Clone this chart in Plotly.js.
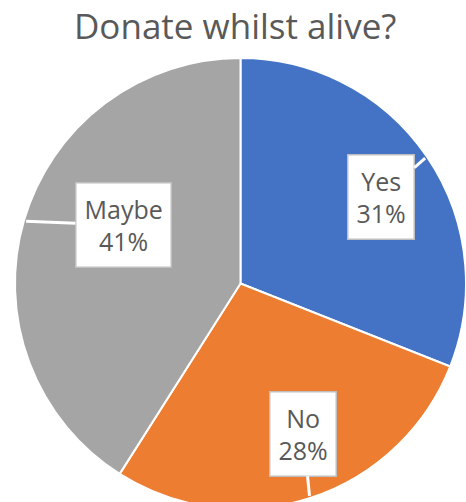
<!DOCTYPE html>
<html>
<head>
<meta charset="utf-8">
<script src="https://cdn.plot.ly/plotly-3.0.1.min.js"></script>
<style>
html,body{margin:0;padding:0;overflow:hidden;background:#fff;width:466px;height:502px;}
#chart{width:480px;height:520px;}
</style>
</head>
<body>
<div id="chart"></div>
<script>
const categories = ["Yes", "No", "Maybe"];
const values = [31, 28, 41];
const colors = ["#4472C4", "#ED7D31", "#A5A5A5"];
const chartTitle = "Donate whilst alive?";

// layout / styling
const W = 480, H = 520;
const M = {l: 15, r: 14, t: 58, b: 11};
const plotW = W - M.l - M.r, plotH = H - M.t - M.b;
const cx = M.l + plotW / 2, cy = M.t + plotH / 2, R = Math.min(plotW, plotH) / 2;
const calloutOffsets = [[-44, 39], [-6, -62], [97, 4]]; // box centre relative to pointer tip (px)

const total = values.reduce((a, b) => a + b, 0);
let cum = 0;
const annotations = categories.map((c, i) => {
  const frac = values[i] / total;
  const mid = (cum + frac / 2) * 2 * Math.PI;
  cum += frac;
  const tx = cx + Math.sin(mid) * R * 0.99;
  const ty = cy - Math.cos(mid) * R * 0.99;
  return {
    x: (tx - M.l) / plotW, y: 1 - (ty - M.t) / plotH,
    xref: "paper", yref: "paper",
    text: c + "<br>" + Math.round(frac * 100) + "%",
    showarrow: true, arrowhead: 0, arrowwidth: 3, arrowcolor: "#ffffff",
    ax: calloutOffsets[i][0], ay: calloutOffsets[i][1],
    bgcolor: "#ffffff", bordercolor: "#BFBFBF", borderwidth: 1.5, borderpad: 8,
    font: {family: "Open Sans, sans-serif", size: 25, color: "#595959"},
    align: "center"
  };
});

const trace = {
  type: "pie",
  labels: categories,
  values: values,
  sort: false,
  direction: "clockwise",
  rotation: 0,
  marker: {colors: colors, line: {color: "#ffffff", width: 2}},
  textinfo: "none",
  hoverinfo: "label+percent",
  showlegend: false
};

const layout = {
  width: W, height: H,
  margin: M,
  paper_bgcolor: "#ffffff",
  title: {
    text: chartTitle,
    font: {family: "Open Sans, sans-serif", size: 35, color: "#595959"},
    x: 0.49, xanchor: "center",
    yref: "container", y: 1 - 27 / H, yanchor: "middle"
  },
  annotations: annotations,
  showlegend: false
};

Plotly.newPlot("chart", [trace], layout, {displayModeBar: false, staticPlot: true});
</script>
</body>
</html>
